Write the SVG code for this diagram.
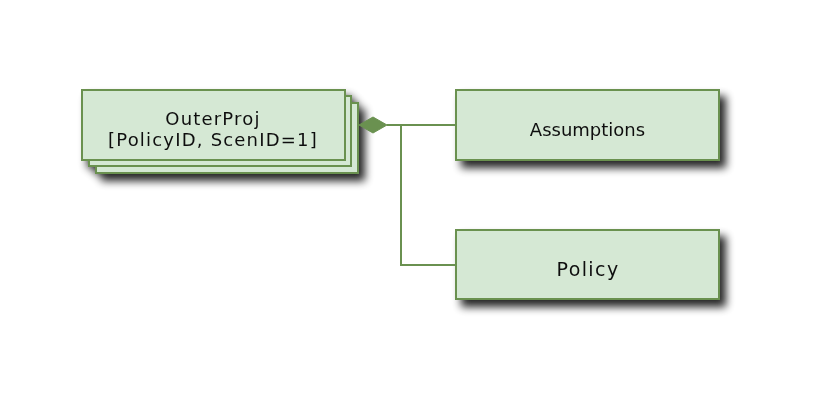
<svg xmlns="http://www.w3.org/2000/svg" width="837" height="413" viewBox="0 0 837 413">
<defs>
<filter id="sh" x="-20%" y="-30%" width="150%" height="190%">
<feGaussianBlur in="SourceAlpha" stdDeviation="4"/>
<feOffset dx="6" dy="7" result="b"/>
<feComponentTransfer><feFuncA type="linear" slope="0.85"/></feComponentTransfer>
<feMerge><feMergeNode/><feMergeNode in="SourceGraphic"/></feMerge>
</filter>
</defs>
<style>
.box{fill:#d5e8d4;stroke:#6a9150;stroke-width:2}
.t{font-family:"DejaVu Sans",Verdana,sans-serif;font-size:18px;fill:#111;text-anchor:middle}
.c{fill:none;stroke:#6a9150;stroke-width:2}
</style>
<rect width="837" height="413" fill="#fff"/>
<g id="OuterProj" filter="url(#sh)">
<rect class="box" x="96" y="103" width="262" height="70"/>
<rect class="box" x="89" y="96" width="262" height="70"/>
<rect class="box" x="82" y="90" width="263" height="70"/>
<text class="t" x="213" y="124.5" letter-spacing="1.2">OuterProj</text>
<text class="t" x="213" y="145.5" letter-spacing="1.2">[PolicyID, ScenID=1]</text>
</g>
<g id="Assumptions" filter="url(#sh)">
<rect class="box" x="456" y="90" width="263" height="70"/>
<text class="t" x="587.5" y="136">Assumptions</text>
</g>
<g id="Policy" filter="url(#sh)">
<rect class="box" x="456" y="230" width="263" height="69"/>
<text class="t" x="588" y="276" style="font-size:19px" letter-spacing="1.4">Policy</text>
</g>
<g id="connectors">
<path class="c" d="M387 125 H456"/>
<path class="c" d="M401 125 V265 H456"/>
<path d="M359 125 L373 117 L387 125 L373 133 Z" fill="#6a9150" stroke="#6a9150" stroke-width="1"/>
</g>
</svg>
